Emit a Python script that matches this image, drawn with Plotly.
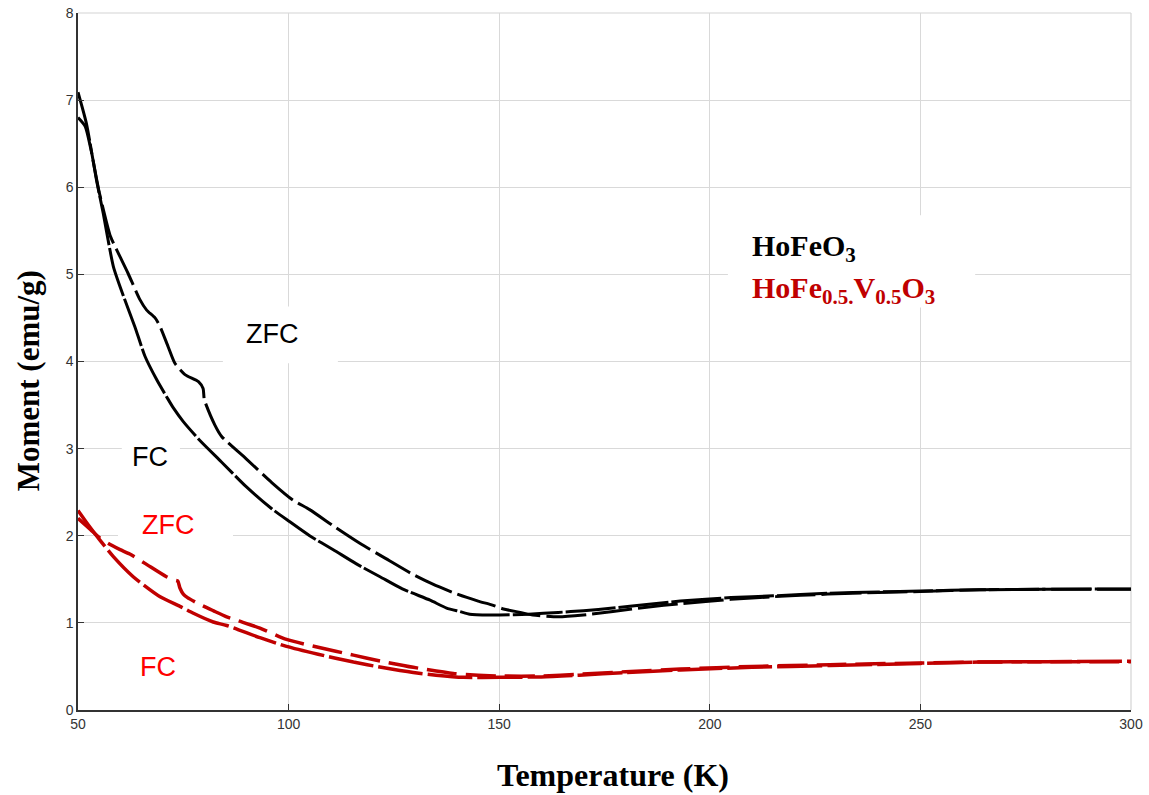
import plotly.graph_objects as go

# ---------------- data ----------------
T_hofeo3_zfc = [50, 51.7, 53, 55, 57.6, 58.4, 60, 61.9, 64.7, 66.3, 68.3, 69.5, 71.4, 73.0, 75.4,
                78.6, 79.7, 80.0, 82.5, 84.1, 90, 96, 101, 105, 111, 117, 123, 129, 134, 140,
                145, 148, 151, 155, 158, 164, 170, 177, 185, 193, 205, 215, 228, 240, 250,
                264, 280, 300]
M_hofeo3_zfc = [6.80, 6.70, 6.45, 5.95, 5.45, 5.36, 5.20, 5.01, 4.71, 4.59, 4.50, 4.40, 4.17, 3.98, 3.85,
                3.77, 3.69, 3.56, 3.27, 3.14, 2.88, 2.61, 2.41, 2.30, 2.10, 1.91, 1.74, 1.57, 1.45, 1.33,
                1.25, 1.21, 1.16, 1.12, 1.09, 1.07, 1.09, 1.13, 1.18, 1.22, 1.27, 1.30, 1.33, 1.35, 1.36,
                1.38, 1.385, 1.385]

T_hofeo3_fc = [50, 52, 54.4, 56, 58.4, 60.8, 63.5, 65.9, 68.7, 71.1, 72.6, 75, 79, 84, 90,
               96, 100.3, 105, 110.6, 116, 121.7, 127, 133.6, 137.5, 140.7, 143, 147.8, 150, 157,
               164, 170, 177, 185, 193, 205, 215, 228, 240, 250, 264, 280, 300]
M_hofeo3_fc = [7.09, 6.73, 6.08, 5.70, 5.09, 4.75, 4.40, 4.06, 3.79, 3.59, 3.47, 3.31, 3.09, 2.85, 2.56,
               2.31, 2.16, 2.00, 1.84, 1.68, 1.53, 1.39, 1.26, 1.17, 1.13, 1.10, 1.09, 1.09, 1.10,
               1.12, 1.14, 1.17, 1.21, 1.25, 1.29, 1.31, 1.34, 1.355, 1.365, 1.38, 1.385, 1.39]

T_hofev_zfc = [50, 53, 55, 58, 60, 62.3, 66, 71, 73, 73.7, 74.2, 75, 76, 79, 82.1, 85.3, 93.2,
               99.5, 107, 115.4, 122, 129.6, 139.1, 145, 150.2, 160, 169, 180, 193, 210, 228.5,
               250, 264, 280, 300]
M_hofev_zfc = [2.20, 2.07, 1.98, 1.89, 1.84, 1.79, 1.68, 1.53, 1.49, 1.48, 1.40, 1.33, 1.29, 1.21, 1.14,
               1.07, 0.94, 0.81, 0.72, 0.63, 0.56, 0.49, 0.42, 0.40, 0.39, 0.39, 0.41, 0.44, 0.47,
               0.50, 0.52, 0.54, 0.55, 0.555, 0.555]

T_hofev_fc = [50, 52.5, 55.2, 58.4, 63.1, 69.5, 74.2, 77.4, 82.1, 85.3, 93.2, 99.5, 107, 115.4,
              122, 129.6, 135, 141.5, 150.2, 160, 169, 180, 193, 210, 228.5, 250, 264, 280, 300]
M_hofev_fc = [2.29, 2.12, 1.95, 1.76, 1.53, 1.30, 1.19, 1.11, 1.01, 0.97, 0.83, 0.73, 0.64, 0.55,
              0.49, 0.43, 0.40, 0.375, 0.375, 0.38, 0.40, 0.43, 0.46, 0.49, 0.51, 0.535, 0.55,
              0.555, 0.56]

x_ticks = [50, 100, 150, 200, 250, 300]
y_ticks = [0, 1, 2, 3, 4, 5, 6, 7, 8]

BLACK = "#000000"
DARKRED = "#c00000"
LABELRED = "#ff0000"

fig = go.Figure()
fig.add_trace(go.Scatter(x=T_hofeo3_fc, y=M_hofeo3_fc, mode="lines", name="HoFeO3 FC",
                         line=dict(color=BLACK, width=3, dash="50px,3px", shape="spline", smoothing=0.6)))
fig.add_trace(go.Scatter(x=T_hofeo3_zfc, y=M_hofeo3_zfc, mode="lines", name="HoFeO3 ZFC",
                         line=dict(color=BLACK, width=3, dash="40px,6px", shape="spline", smoothing=0.6)))
fig.add_trace(go.Scatter(x=T_hofev_fc, y=M_hofev_fc, mode="lines", name="HoFe0.5V0.5O3 FC",
                         line=dict(color=DARKRED, width=3.5, dash="45px,5px", shape="spline", smoothing=0.6)))
fig.add_trace(go.Scatter(x=T_hofev_zfc, y=M_hofev_zfc, mode="lines", name="HoFe0.5V0.5O3 ZFC",
                         line=dict(color=DARKRED, width=3.5, dash="30px,9px", shape="spline", smoothing=0.6)))

# white boxes that hide gridlines behind the labels
boxes = [(84.4, 111.7, 3.98, 4.63), (59.5, 86.8, 1.88, 2.34), (60.4, 74.2, 2.68, 3.13),
         (204.3, 263.0, 4.62, 5.68)]
shapes = []
for x0, x1, y0, y1 in boxes:
    shapes.append(dict(type="rect", xref="x", yref="y", x0=x0, x1=x1, y0=y0, y1=y1,
                       fillcolor="white", line=dict(width=0), layer="between"))
# light frame on top and right
shapes.append(dict(type="line", xref="paper", yref="paper", x0=0, x1=1, y0=1, y1=1,
                   line=dict(color="#d4d4d4", width=1.2), layer="below"))
shapes.append(dict(type="line", xref="paper", yref="paper", x0=1, x1=1, y0=0, y1=1,
                   line=dict(color="#d4d4d4", width=1.2), layer="below"))

sans = "Liberation Sans, Arial, sans-serif"
serif = "Liberation Serif, Times New Roman, serif"
annotations = [
    dict(x=96.1, y=4.31, text="ZFC", font=dict(family=sans, size=27, color=BLACK)),
    dict(x=67.1, y=2.90, text="FC", font=dict(family=sans, size=27, color=BLACK)),
    dict(x=71.4, y=2.12, text="ZFC", font=dict(family=sans, size=27, color=LABELRED)),
    dict(x=69.0, y=0.49, text="FC", font=dict(family=sans, size=27, color=LABELRED)),
    dict(x=209.5, y=5.30, text="<b>HoFeO<sub>3</sub></b>", xanchor="left",
         font=dict(family=serif, size=30, color=BLACK)),
    dict(x=209.5, y=4.82, text="<b>HoFe<sub>0.5.</sub>V<sub>0.5</sub>O<sub>3</sub></b>", xanchor="left",
         font=dict(family=serif, size=30, color=DARKRED)),
]
for a in annotations:
    a.setdefault("xanchor", "center")
    a.update(xref="x", yref="y", showarrow=False, yanchor="middle")
# axis titles
annotations.append(dict(xref="paper", yref="paper", x=0.508, y=-0.093, showarrow=False,
                        text="<b>Temperature (K)</b>", xanchor="center", yanchor="middle",
                        font=dict(family=serif, size=32, color=BLACK)))
annotations.append(dict(xref="paper", yref="paper", x=-0.0475, y=0.473, showarrow=False,
                        text="<b>Moment (emu/g)</b>", xanchor="center", yanchor="middle", textangle=-90,
                        font=dict(family=serif, size=31, color=BLACK)))

fig.update_layout(
    width=1149, height=795,
    margin=dict(l=78, r=18, t=13, b=85, autoexpand=False),
    paper_bgcolor="white", plot_bgcolor="white",
    showlegend=False,
    shapes=shapes, annotations=annotations,
    xaxis=dict(range=[50, 300], tickvals=x_ticks, ticktext=[str(v) for v in x_ticks],
               automargin=False,
               showgrid=True, gridcolor="#d9d9d9", gridwidth=1, zeroline=False,
               showline=True, linecolor="#333333", linewidth=1.5,
               ticks="inside", ticklen=6, tickcolor="#333333",
               tickfont=dict(family=sans, size=14, color="#333333")),
    yaxis=dict(range=[0, 8], tickvals=y_ticks, ticktext=[str(v) for v in y_ticks],
               automargin=False,
               showgrid=True, gridcolor="#d9d9d9", gridwidth=1, zeroline=False,
               showline=True, linecolor="#333333", linewidth=1.5,
               ticks="inside", ticklen=6, tickcolor="#333333",
               tickfont=dict(family=sans, size=14, color="#333333")),
)

fig.write_html("out.html",
               config={"displayModeBar": False},
               post_script="document.body.style.margin='0';document.body.style.padding='0';"
                           "document.body.style.overflow='hidden';")
